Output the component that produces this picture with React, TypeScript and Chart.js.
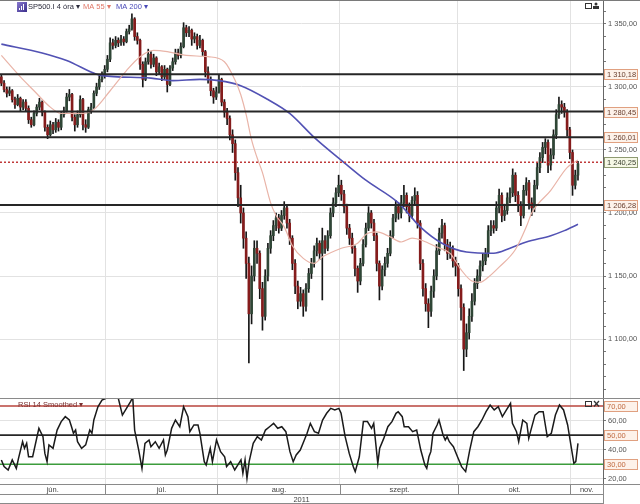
import React, { useEffect, useRef } from 'react';
import { Chart, registerables } from 'chart.js';
Chart.register(...registerables);

const opens = [1308,1303,1298,1295,1297,1290,1286,1291,1284,1288,
 1283,1274,1270,1279,1284,1288,1280,1268,1262,1270,
 1266,1272,1268,1278,1281,1292,1294,1276,1270,1278,
 1290,1270,1268,1282,1284,1295,1300,1306,1309,1314,
 1322,1335,1333,1337,1335,1338,1336,1344,1346,1354,
 1340,1337,1318,1306,1320,1326,1318,1323,1312,1316,
 1308,1314,1302,1315,1320,1327,1325,1332,1347,1343,
 1345,1338,1340,1333,1337,1328,1312,1306,1297,1292,
 1296,1306,1288,1280,1275,1262,1255,1232,1212,1200,
 1180,1160,1120,1150,1172,1168,1140,1118,1150,1172,
 1182,1190,1196,1188,1198,1204,1192,1180,1160,1142,
 1130,1136,1126,1140,1152,1160,1170,1176,1168,1178,
 1172,1182,1200,1208,1216,1222,1215,1205,1188,1180,
 1172,1156,1146,1160,1175,1188,1200,1192,1182,1160,
 1142,1155,1160,1168,1182,1196,1205,1200,1208,1214,
 1205,1198,1210,1214,1192,1160,1140,1128,1122,1138,
 1150,1170,1184,1190,1175,1168,1172,1162,1158,1140,
 1125,1092,1105,1118,1130,1144,1150,1158,1162,1168,
 1186,1190,1188,1204,1214,1198,1202,1212,1216,1230,
 1214,1206,1198,1218,1224,1208,1204,1222,1236,1244,
 1252,1256,1238,1246,1262,1278,1286,1284,1280,1266,
 1248,1222,1230];

const highs = [1310,1305,1300,1300,1298,1292,1294,1292,1290,1290,
 1285,1276,1281,1286,1291,1289,1281,1270,1273,1272,
 1275,1274,1280,1284,1295,1298,1295,1278,1281,1293,
 1291,1274,1284,1287,1297,1303,1309,1312,1317,1325,
 1339,1338,1340,1339,1341,1340,1346,1349,1358,1355,
 1343,1338,1320,1323,1330,1328,1326,1324,1319,1317,
 1317,1315,1317,1323,1330,1330,1335,1351,1349,1348,
 1346,1343,1342,1341,1338,1329,1316,1308,1299,1300,
 1310,1307,1290,1283,1277,1266,1258,1236,1222,1204,
 1185,1165,1158,1178,1178,1170,1145,1155,1176,1186,
 1194,1200,1199,1202,1209,1206,1195,1182,1163,1146,
 1141,1139,1144,1156,1164,1174,1180,1178,1188,1182,
 1186,1204,1212,1220,1230,1226,1218,1207,1191,1184,
 1174,1158,1164,1179,1192,1205,1202,1195,1184,1162,
 1158,1165,1172,1186,1199,1210,1208,1214,1222,1216,
 1208,1213,1220,1217,1194,1163,1144,1132,1142,1155,
 1175,1188,1195,1192,1179,1177,1174,1165,1160,1143,
 1128,1112,1124,1136,1148,1155,1162,1168,1172,1190,
 1194,1194,1209,1219,1216,1207,1216,1220,1235,1232,
 1217,1209,1222,1228,1226,1212,1226,1240,1248,1256,
 1259,1258,1251,1266,1282,1292,1289,1287,1282,1268,
 1250,1234,1241];

const lows = [1301,1296,1292,1293,1288,1283,1285,1281,1282,1281,
 1271,1268,1269,1277,1282,1277,1265,1259,1261,1263,
 1264,1265,1266,1276,1280,1289,1273,1265,1268,1276,
 1266,1264,1267,1279,1283,1293,1298,1304,1307,1312,
 1320,1330,1331,1332,1333,1333,1335,1342,1345,1337,
 1334,1314,1300,1305,1318,1315,1316,1309,1310,1305,
 1306,1296,1301,1313,1318,1322,1323,1331,1340,1340,
 1333,1335,1330,1331,1325,1308,1303,1293,1287,1290,
 1295,1285,1276,1270,1258,1248,1226,1205,1192,1172,
 1148,1081,1112,1146,1160,1132,1107,1115,1146,1168,
 1178,1186,1184,1186,1195,1188,1175,1155,1136,1124,
 1126,1118,1122,1137,1148,1157,1166,1163,1131,1168,
 1170,1180,1197,1205,1213,1210,1200,1183,1175,1168,
 1150,1137,1143,1158,1173,1186,1188,1178,1154,1131,
 1139,1150,1157,1166,1180,1193,1195,1196,1205,1200,
 1193,1196,1207,1188,1155,1134,1122,1109,1118,1133,
 1147,1167,1180,1170,1163,1164,1157,1150,1134,1115,
 1075,1086,1100,1114,1127,1140,1146,1154,1159,1165,
 1182,1184,1186,1200,1193,1194,1199,1208,1213,1209,
 1201,1190,1196,1214,1203,1198,1201,1219,1232,1240,
 1247,1232,1234,1243,1259,1275,1279,1276,1261,1243,
 1214,1219,1226];

const closes = [1303,1298,1295,1297,1290,1286,1291,1284,1288,1283,
 1274,1270,1279,1284,1288,1280,1268,1262,1270,1266,
 1272,1268,1278,1281,1292,1294,1276,1270,1278,1290,
 1270,1268,1282,1284,1295,1300,1306,1309,1314,1322,
 1335,1333,1337,1335,1338,1336,1344,1346,1354,1340,
 1337,1318,1306,1320,1326,1318,1323,1312,1316,1308,
 1314,1302,1315,1320,1327,1325,1332,1347,1343,1345,
 1338,1340,1333,1337,1328,1312,1306,1297,1292,1296,
 1306,1288,1280,1275,1262,1255,1232,1212,1200,1180,
 1160,1120,1150,1172,1168,1140,1118,1150,1172,1182,
 1190,1196,1188,1198,1204,1192,1180,1160,1142,1130,
 1136,1126,1140,1152,1160,1170,1176,1168,1178,1172,
 1182,1200,1208,1216,1222,1215,1205,1188,1180,1172,
 1156,1146,1160,1175,1188,1200,1192,1182,1160,1142,
 1155,1160,1168,1182,1196,1205,1200,1208,1214,1205,
 1198,1210,1214,1192,1160,1140,1128,1122,1138,1150,
 1170,1184,1190,1175,1168,1172,1162,1158,1140,1125,
 1092,1105,1118,1130,1144,1150,1158,1162,1168,1186,
 1190,1188,1204,1214,1198,1202,1212,1216,1230,1214,
 1206,1198,1218,1224,1208,1204,1222,1236,1244,1252,
 1256,1238,1246,1262,1278,1286,1284,1280,1266,1248,
 1222,1230,1239];

const ma55X = [0,7,12,18,22,30,34,40,46,51,56,61,68,76,82,86,88,90,92,94,96,99,101,104,107,111,115,118,125,131,134,138,143,147,151,155,160,165,169,173,176,179,183,189,193,195,202,208,212];
const ma55Y = [1325,1308,1297,1284,1279,1279,1282,1297,1313,1324,1329,1328,1325,1324,1320,1305,1294,1278,1258,1244,1232,1208,1198,1189,1174,1164,1160,1165,1172,1176,1183,1185,1181,1177,1180,1178,1173,1168,1155,1146,1145,1149,1157,1171,1189,1200,1218,1236,1242];

const ma200X = [0,15,24,35,37,55,63,73,80,88,98,106,115,126,134,146,154,162,171,181,187,193,202,207,212];
const ma200Y = [1334,1327,1321,1310,1309,1307,1305,1306,1305,1301,1290,1279,1260,1240,1226,1208,1189,1176,1169,1168,1172,1177,1182,1186,1191];

const rsiX = [0,1,2.5,4,5.5,6.3,7.8,8.5,9.3,10,
 11.5,13.8,15.3,16,16.8,17.5,19,20.5,22,23.5,
 25,25.8,26.5,27.3,28,29.5,31,32.5,33.3,34,
 35.5,37,38.5,40.8,43,44.5,46,47.5,48.3,49,
 50.5,51.7,52.8,54.3,55,56.6,58,59.6,60.3,61,
 62.6,64,65.6,67,68.6,69.3,70.8,72.3,73,74.6,
 75.3,76.8,77.6,79.1,80.6,82.1,82.8,84.3,85.8,88.1,
 88.8,89.6,90.3,91.1,92.6,94.1,95.6,97.1,98.6,100.1,
 101.6,103.1,104.6,106.1,107.3,108.4,109.9,111.4,112.4,113.6,
 115.1,116.6,118.1,119.6,121.1,122.6,124.1,124.9,126.4,127.9,
 129.4,130.1,131.6,133.1,134.6,136.1,136.9,138.4,139.1,140.6,
 142.1,143.6,145.1,145.9,147.4,148.1,149.7,151.2,152.7,154.2,
 155.7,156.4,157.2,157.9,158.7,160.2,160.9,162.4,163.2,163.9,
 164.7,166.2,167.7,169.2,170.7,172.2,173.7,175.2,176.7,178.2,
 179.7,181.2,182.7,184.2,185.7,187.2,187.9,189.4,190.2,191.7,
 193.2,193.9,194.7,196.2,197.7,199.2,200.7,202.2,203.7,205.2,
 206.7,208.2,209.7,210.5,211.2,212];
const rsiY = [33,28.5,26.1,33,27.2,34.1,45.5,41,44.4,35.2,
 35.2,54.7,49,37.5,31.8,43.3,41,53.5,59.3,62.7,
 60.4,55.8,51.3,53.5,45.5,41,43.3,53.5,51.3,60.4,
 69.5,74.1,75.3,78,75.3,63.8,68.4,73,76,53.5,
 39.8,27.2,44.4,46.7,42.1,45.5,41,46.7,36.4,39.8,
 54.7,60.4,55.8,69.5,62.7,52.4,57,57,51.3,31.8,
 29.5,41,31.8,46.7,38.7,35.2,28.4,31.8,26.1,33,
 23.8,33,20.4,31.8,44.4,49,46.7,53.5,55.8,58.1,
 54.7,55.8,52.4,38.7,31.8,36.4,39.8,46.7,51.3,58.1,
 52.4,51.3,60.4,65,68.4,67.3,68.4,65,49,37.5,
 28.4,25,35.2,59.3,59.3,54.7,58.1,30.7,41,47.8,
 55.8,59.3,65,66.1,62.7,55.8,55.8,52.4,53.5,39.8,
 29.5,27.2,35.2,38.7,51.3,57,60.4,50.1,46.7,49,
 45.5,42.1,35.2,28.4,25,39.8,52.4,55.8,60.4,66.1,
 70.7,67.3,69.5,62.7,67.3,71.8,58.1,52.4,45.5,60.4,
 58.1,47.8,53.5,63.8,66.1,66.1,49,51.3,63.8,70.7,
 67.3,57,39.8,30.7,31.8,44.4];

const levels = [1310.18, 1280.45, 1260.01, 1206.28];
const pivotLevel = 1240.25;
const rsiLevels = [70, 50, 30];
const rsiTickLabels = [20, 40, 60];
const monthNames = ['jún.', 'júl.', 'aug.', 'szept.', 'okt.', 'nov.'];
const monthBounds = [38.2, 79.3, 124.5, 167.8, 209.1];
const yearLabel = '2011';
const legendTitle = 'SP500.I 4 óra';
const legendMa55 = 'MA 55';
const legendMa200 = 'MA 200';
const rsiTitle = 'RSI 14 Smoothed';

const X_MIN = -0.5;
const X_MAX = 221.2;
const FONT = 'Arial, "Liberation Sans", sans-serif';

const fmt = (v: number) => {
  const [i, d] = v.toFixed(2).split('.');
  return i.replace(/\B(?=(\d{3})+(?!\d))/g, ' ') + ',' + d;
};

const xScale = (h: number) => ({
  type: 'linear',
  min: X_MIN,
  max: X_MAX,
  offset: false,
  afterBuildTicks: (s: any) => { s.ticks = monthBounds.map((v) => ({ value: v })); },
  afterFit: (s: any) => { s.height = h; s.paddingLeft = 0; s.paddingRight = 0; },
  ticks: { display: false },
  grid: { color: '#e2e2e2', lineWidth: 1, drawTicks: false, offset: false },
  border: { display: false },
});

const hline = (v: number, color: string, width: number, dash: number[] = []) => ({
  type: 'line',
  data: [{ x: X_MIN, y: v }, { x: X_MAX, y: v }],
  borderColor: color,
  borderWidth: width,
  borderDash: dash,
  pointRadius: 0,
  order: 1,
});

const drawBox = (ctx: CanvasRenderingContext2D, x: number, py: number, text: string, border: string, fill: string, color: string) => {
  ctx.fillStyle = fill;
  ctx.fillRect(x, py - 5, 34, 11);
  ctx.strokeStyle = border;
  ctx.lineWidth = 1;
  ctx.strokeRect(x + 0.5, py - 4.5, 33, 10);
  ctx.fillStyle = color;
  ctx.textAlign = 'left';
  ctx.textBaseline = 'middle';
  ctx.fillText(text, x + 3, py + 0.5);
};

const mainDeco = {
  id: 'mainDeco',
  afterDraw(chart: any) {
    const { ctx, chartArea: a, scales } = chart;
    const y = scales.y;
    ctx.save();
    ctx.font = `7.5px ${FONT}`;
    levels.forEach((v) => {
      drawBox(ctx, a.right + 1, Math.round(y.getPixelForValue(v)), fmt(v), '#e0a080', '#fdf2ea', '#6a4030');
    });
    drawBox(ctx, a.right + 1, Math.round(y.getPixelForValue(pivotLevel)), fmt(pivotLevel), '#8e9a70', '#f6f8e6', '#3a4030');
    ctx.strokeStyle = '#7a7a7a';
    ctx.lineWidth = 1;
    ctx.beginPath(); ctx.moveTo(0, 0.5); ctx.lineTo(chart.width, 0.5); ctx.stroke();
    const grad = ctx.createLinearGradient(17, 2, 27, 12);
    grad.addColorStop(0, '#8a7ad0'); grad.addColorStop(1, '#3a2e8a');
    ctx.fillStyle = grad;
    ctx.fillRect(17, 2, 10, 10);
    ctx.fillStyle = '#ffffff';
    ctx.fillRect(19, 8, 1, 2); ctx.fillRect(21, 6, 1, 4); ctx.fillRect(23, 4, 1, 6);
    ctx.textAlign = 'left';
    ctx.textBaseline = 'middle';
    ctx.font = `7.5px ${FONT}`;
    ctx.fillStyle = '#2a2a3a';
    ctx.fillText(legendTitle + ' ▾', 28, 7);
    ctx.fillStyle = '#e07868';
    ctx.fillText(legendMa55 + ' ▾', 83, 7);
    ctx.fillStyle = '#4a4ab8';
    ctx.fillText(legendMa200 + ' ▾', 116, 7);
    ctx.strokeStyle = '#333';
    ctx.strokeRect(585.5, 3.5, 6, 5);
    ctx.fillStyle = '#333';
    ctx.beginPath(); ctx.arc(596, 4, 1.5, 0, Math.PI * 2); ctx.fill();
    ctx.fillRect(593, 6, 6, 3);
    ctx.restore();
  },
};

const rsiDeco = {
  id: 'rsiDeco',
  afterDraw(chart: any) {
    const { ctx, chartArea: a, scales } = chart;
    const x = scales.x;
    const y = scales.y;
    const W = chart.width;
    const H = chart.height;
    ctx.save();
    ctx.font = `7.5px ${FONT}`;
    rsiLevels.forEach((v) => {
      drawBox(ctx, a.right + 1, Math.round(y.getPixelForValue(v)), fmt(v), '#e0a080', '#fdf2ea', '#c06a40');
    });
    ctx.strokeStyle = '#8a8a8a';
    ctx.lineWidth = 1;
    const line = (x1: number, y1: number, x2: number, y2: number) => {
      ctx.beginPath(); ctx.moveTo(x1, y1); ctx.lineTo(x2, y2); ctx.stroke();
    };
    line(0, 0.5, W, 0.5);
    line(0, a.bottom + 0.5, W, a.bottom + 0.5);
    line(0, a.bottom + 10.5, a.right, a.bottom + 10.5);
    line(0, H - 0.5, a.right, H - 0.5);
    line(a.right + 0.5, a.bottom, a.right + 0.5, H);
    const edges = [a.left, ...monthBounds.map((b) => Math.round(x.getPixelForValue(b)) + 0.5), a.right];
    monthBounds.forEach((b, i) => {
      const px = edges[i + 1];
      line(px, a.bottom, px, a.bottom + 10);
    });
    ctx.fillStyle = '#444';
    ctx.textAlign = 'center';
    ctx.textBaseline = 'middle';
    monthNames.forEach((m, i) => {
      ctx.fillText(m, (edges[i] + edges[i + 1]) / 2, a.bottom + 5.5);
    });
    ctx.fillText(yearLabel, (a.left + a.right) / 2, a.bottom + 15.5);
    ctx.textAlign = 'left';
    ctx.fillStyle = '#7a3030';
    ctx.fillText(rsiTitle + ' ▾', 18, 6.5);
    ctx.strokeStyle = '#333';
    ctx.strokeRect(585.5, 3.5, 6, 5);
    ctx.lineWidth = 1.3;
    line(594, 3, 599, 8.5);
    line(599, 3, 594, 8.5);
    ctx.restore();
  },
};

export default function App() {
  const mainRef = useRef<HTMLCanvasElement>(null);
  const rsiRef = useRef<HTMLCanvasElement>(null);

  useEffect(() => {
    document.body.style.margin = '0';
    Chart.defaults.font.family = FONT;
    const UP = '#2f4636';
    const DOWN = '#851c1c';
    const bodyColors = closes.map((c, i) => (c >= opens[i] ? UP : DOWN));

    const main = new Chart(mainRef.current as HTMLCanvasElement, {
      type: 'bar',
      data: {
        datasets: [
          {
            type: 'bar',
            data: closes.map((_, i) => ({ x: i, y: [lows[i], highs[i]] })),
            backgroundColor: '#161616',
            barThickness: 1,
            grouped: false,
            order: 6,
          },
          {
            type: 'bar',
            data: closes.map((c, i) => ({ x: i, y: [opens[i], c] })),
            backgroundColor: bodyColors,
            barThickness: 2,
            grouped: false,
            minBarLength: 1,
            order: 5,
          },
          {
            type: 'line',
            data: ma55X.map((v, i) => ({ x: v, y: ma55Y[i] })),
            borderColor: '#e9b4a8',
            borderWidth: 1.2,
            pointRadius: 0,
            cubicInterpolationMode: 'monotone',
            order: 3,
          },
          {
            type: 'line',
            data: ma200X.map((v, i) => ({ x: v, y: ma200Y[i] })),
            borderColor: '#5252b4',
            borderWidth: 1.6,
            pointRadius: 0,
            cubicInterpolationMode: 'monotone',
            order: 3,
          },
          ...levels.map((v) => hline(v, '#262626', 2)),
          hline(pivotLevel, '#c03a3a', 1.5, [2, 2]),
        ] as any,
      },
      options: {
        responsive: false,
        animation: false,
        devicePixelRatio: 1,
        layout: { padding: 0 },
        plugins: { legend: { display: false }, tooltip: { enabled: false } },
        scales: {
          x: xScale(0) as any,
          y: {
            type: 'linear',
            position: 'right',
            min: 1053.2,
            max: 1369,
            afterFit: (s: any) => { s.width = 37; s.paddingTop = 0; s.paddingBottom = 0; },
            ticks: {
              stepSize: 10,
              includeBounds: false,
              autoSkip: false,
              padding: 2,
              color: '#555',
              font: { size: 7.5 },
              callback: (v: any) => (Math.round(v) % 50 === 0 ? fmt(Number(v)) : ''),
            },
            grid: {
              color: (c: any) => (c.tick && Math.round(c.tick.value) % 50 === 0 ? '#e2e2e2' : 'rgba(0,0,0,0)'),
              tickColor: '#777',
              tickLength: 3,
              drawTicks: true,
            },
            border: { color: '#666' },
          } as any,
        },
      },
      plugins: [mainDeco],
    });

    const rsi = new Chart(rsiRef.current as HTMLCanvasElement, {
      type: 'line',
      data: {
        datasets: [
          {
            data: rsiX.map((v, i) => ({ x: v, y: rsiY[i] })),
            borderColor: '#1a1a1a',
            borderWidth: 1.5,
            pointRadius: 0,
            tension: 0,
            order: 0,
          },
          hline(70, '#b8443c', 1.6),
          hline(50, '#262626', 1.6),
          hline(30, '#3c9c3c', 1.6),
        ] as any,
      },
      options: {
        responsive: false,
        animation: false,
        devicePixelRatio: 1,
        layout: { padding: 0 },
        plugins: { legend: { display: false }, tooltip: { enabled: false } },
        scales: {
          x: xScale(20) as any,
          y: {
            type: 'linear',
            position: 'right',
            min: 16.5,
            max: 75.5,
            afterFit: (s: any) => { s.width = 37; s.paddingTop = 0; s.paddingBottom = 0; },
            ticks: {
              stepSize: 10,
              includeBounds: false,
              autoSkip: false,
              padding: 2,
              color: '#555',
              font: { size: 7.5 },
              callback: (v: any) => (rsiTickLabels.includes(Math.round(v)) ? fmt(Number(v)) : ''),
            },
            grid: {
              color: (c: any) => (c.tick && rsiTickLabels.includes(Math.round(c.tick.value)) ? '#e2e2e2' : 'rgba(0,0,0,0)'),
              tickColor: '#777',
              tickLength: 3,
              drawTicks: true,
            },
            border: { color: '#666' },
          } as any,
        },
      },
      plugins: [rsiDeco],
    });

    return () => {
      main.destroy();
      rsi.destroy();
    };
  }, []);

  return (
    <div style={{ position: 'absolute', left: 0, top: 0, width: 640, height: 504, background: '#ffffff' }}>
      <canvas ref={mainRef} width={640} height={398} style={{ display: 'block', width: 640, height: 398 }} />
      <canvas ref={rsiRef} width={640} height={106} style={{ display: 'block', width: 640, height: 106 }} />
    </div>
  );
}
